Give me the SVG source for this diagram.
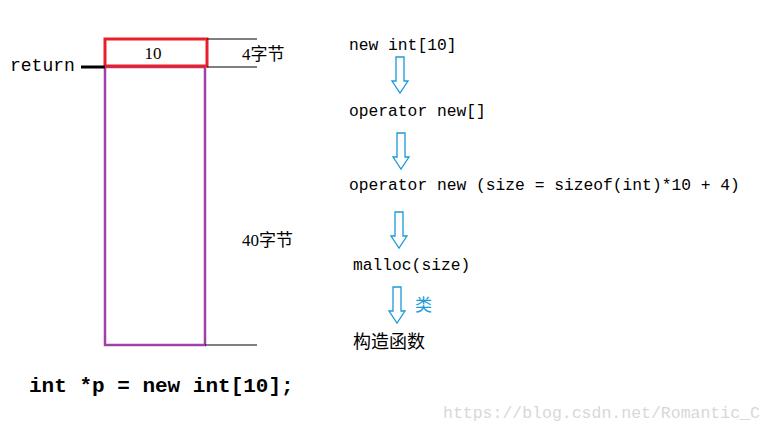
<svg xmlns="http://www.w3.org/2000/svg" width="773" height="432" viewBox="0 0 773 432">
<style>
.m{font-family:"Liberation Mono","DejaVu Sans Mono","Noto Sans CJK SC",monospace;font-size:16.3px;fill:#000}
.c{font-family:"Liberation Serif","Noto Sans CJK SC",serif;font-size:17px;fill:#000}
.a{fill:#fff;stroke:#1a9ad6;stroke-width:1.3}
</style>
<defs><path id="ar" class="a" d="M-4,0 H4 V24 H8 L0,36 L-8,24 H-4 Z"/></defs>
<rect width="773" height="432" fill="#fff"/>
<g id="block">
<rect x="105" y="67" width="100" height="278" fill="none" stroke="#a040a8" stroke-width="2.5"/>
<rect x="105" y="39" width="102" height="27" fill="none" stroke="#e8202a" stroke-width="3"/>
<text x="153" y="59" class="c" text-anchor="middle">10</text>
</g>
<g id="connectors" stroke="#000">
<line x1="207" y1="39" x2="257" y2="39"/>
<line x1="207" y1="67" x2="257" y2="67"/>
<line x1="205" y1="345" x2="257" y2="345"/>
<line x1="81" y1="67" x2="105" y2="67" stroke-width="3"/>
<use href="#ar" x="400" y="57"/>
<use href="#ar" x="401" y="133"/>
<use href="#ar" x="399" y="212"/>
<use href="#ar" x="397" y="287"/>
</g>
<g id="labels">
<text x="10" y="71" font-family="Liberation Mono,monospace" font-size="18" fill="#000">return</text>
<text x="242" y="60" class="c">4字节</text>
<text x="242" y="246" class="c">40字节</text>
<text x="349" y="50" class="m">new int[10]</text>
<text x="349" y="116" class="m">operator new[]</text>
<text x="349" y="190" class="m">operator new (size = sizeof(int)*10 + 4)</text>
<text x="353" y="270" class="m">malloc(size)</text>
<text x="415" y="311" font-family="Noto Sans CJK SC,sans-serif" font-size="17" fill="#1a9ad6">类</text>
<text x="353" y="348" font-family="Noto Sans CJK SC,sans-serif" font-size="18" fill="#000">构造函数</text>
<text x="29" y="392" font-family="Liberation Mono,monospace" font-size="21" font-weight="bold" fill="#000">int *p = new int[10];</text>
<text x="443" y="418" font-family="Liberation Mono,monospace" font-size="16.5" fill="#d8d8d8">https://blog.csdn.net/Romantic_C</text>
</g>
</svg>
